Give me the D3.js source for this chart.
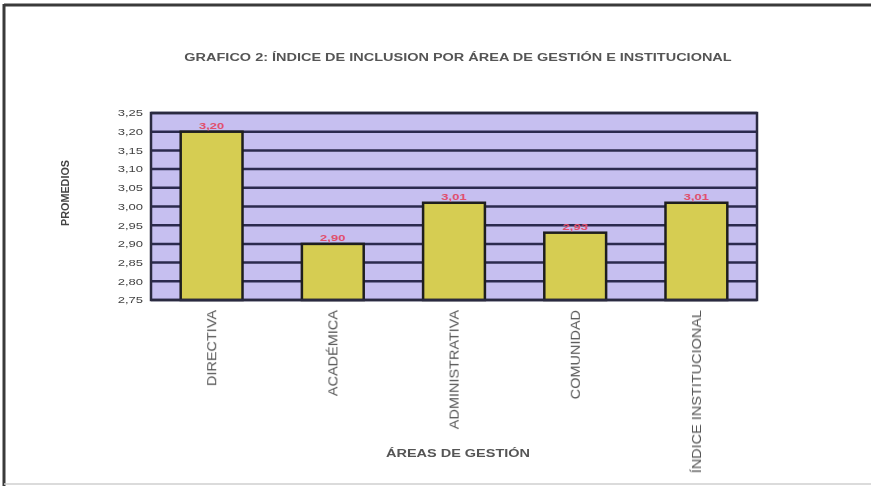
<!DOCTYPE html>
<html>
<head>
<meta charset="utf-8">
<script src="https://cdn.jsdelivr.net/npm/d3@7/dist/d3.min.js"></script>
<style>
html,body{margin:0;padding:0;background:#fff;}
svg{display:block;font-family:"Liberation Sans",Arial,sans-serif;filter:blur(0.5px);}
</style>
</head>
<body>
<svg id="chart" width="871" height="486"></svg>
<script>
const categories = ["DIRECTIVA","ACADÉMICA","ADMINISTRATIVA","COMUNIDAD","ÍNDICE INSTITUCIONAL"];
const values = [3.20, 2.90, 3.01, 2.93, 3.01];
const yTicks = [2.75,2.80,2.85,2.90,2.95,3.00,3.05,3.10,3.15,3.20,3.25];
const title = "GRAFICO 2: ÍNDICE DE INCLUSION POR ÁREA DE GESTIÓN E INSTITUCIONAL";
const yTitle = "PROMEDIOS";
const xTitle = "ÁREAS DE GESTIÓN";

const svg = d3.select("#chart");
const W = 871, H = 486;
const m = {left:151, right:757, top:113, bottom:300};
const SX = 1.45; // horizontal stretch of text seen in the reference

// outer frame
svg.append("line").attr("x1",4).attr("x2",W).attr("y1",5).attr("y2",5).attr("stroke","#3a3a3a").attr("stroke-width",3);
svg.append("line").attr("x1",4).attr("x2",4).attr("y1",4).attr("y2",H).attr("stroke","#3a3a3a").attr("stroke-width",3);
svg.append("line").attr("x1",4).attr("x2",W).attr("y1",484).attr("y2",484).attr("stroke","#cfcfcf").attr("stroke-width",1.5);

const x = d3.scaleBand().domain(categories).range([m.left,m.right]).paddingInner(0.49).paddingOuter(0.245);
const y = d3.scaleLinear().domain([2.75,3.25]).range([m.bottom,m.top]);

// plot background
svg.append("rect").attr("x",m.left).attr("y",m.top).attr("width",m.right-m.left).attr("height",m.bottom-m.top).attr("fill","#c6bff0");

// gridlines
svg.append("g").selectAll("line").data(yTicks).join("line")
  .attr("x1",m.left).attr("x2",m.right)
  .attr("y1",d=>y(d)).attr("y2",d=>y(d))
  .attr("stroke","#2b2a4e").attr("stroke-width",2.5);

// bars
svg.append("g").selectAll("rect").data(values).join("rect")
  .attr("x",(d,i)=>x(categories[i]))
  .attr("width",x.bandwidth())
  .attr("y",d=>y(d))
  .attr("height",d=>y(2.75)-y(d))
  .attr("fill","#d6cd52").attr("stroke","#1e1e1e").attr("stroke-width",2.5);

// plot border
svg.append("rect").attr("x",m.left).attr("y",m.top).attr("width",m.right-m.left).attr("height",m.bottom-m.top)
  .attr("fill","none").attr("stroke","#2a2a40").attr("stroke-width",2.5);

// value labels
const fmt = v => d3.format(".2f")(v).replace(".",",");
svg.append("g").selectAll("text").data(values).join("text")
  .attr("transform",(d,i)=>`translate(${x(categories[i])+x.bandwidth()/2},${y(d)-3}) scale(${SX},1)`)
  .attr("text-anchor","middle")
  .attr("font-size",9).attr("font-weight","bold")
  .attr("fill","#e0506e")
  .text(fmt);

// y axis
const yAxis = d3.axisLeft(y).tickValues(yTicks).tickSize(0).tickPadding(0).tickFormat(fmt);
const ga = svg.append("g").attr("transform",`translate(${m.left},0)`).call(yAxis);
ga.select(".domain").remove();
ga.selectAll("text").attr("font-size",9).attr("fill","#444").attr("font-family","Liberation Sans, Arial, sans-serif")
  .attr("x",0).attr("transform",`translate(-8,0) scale(${SX},1)`);

// x axis labels
const xAxis = d3.axisBottom(x).tickSize(0).tickPadding(0);
const gx = svg.append("g").attr("transform",`translate(0,${m.bottom})`).call(xAxis);
gx.select(".domain").remove();
gx.selectAll("text")
  .attr("font-size",10.5).attr("fill","#555").attr("font-family","Liberation Sans, Arial, sans-serif")
  .attr("text-anchor","end")
  .attr("transform","rotate(-90) translate(-10,0) scale(1.38,1.3)")
  .attr("x",0).attr("y",0).attr("dy","0.35em");

// titles
svg.append("text").attr("transform",`translate(458,61) scale(${SX},1)`).attr("text-anchor","middle")
  .attr("font-size",10).attr("font-weight","bold").attr("fill","#555").text(title);
svg.append("text").attr("transform","translate(69,193) rotate(-90) scale(1.2,1.3)").attr("text-anchor","middle")
  .attr("font-size",9).attr("font-weight","bold").attr("fill","#444").text(yTitle);
svg.append("text").attr("transform",`translate(458,457) scale(${SX},1)`).attr("text-anchor","middle")
  .attr("font-size",10).attr("font-weight","bold").attr("fill","#555").text(xTitle);
</script>
</body>
</html>
